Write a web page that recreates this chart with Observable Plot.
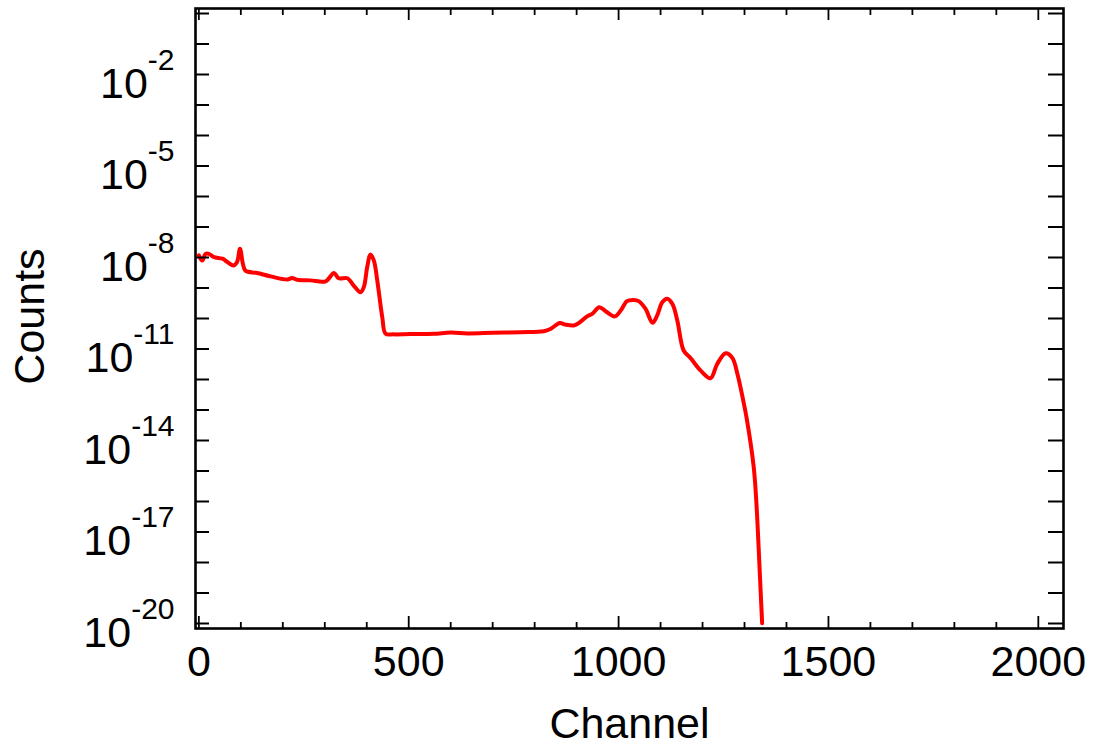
<!DOCTYPE html>
<html>
<head>
<meta charset="utf-8">
<script src="https://cdn.jsdelivr.net/npm/d3@7"></script>
<script src="https://cdn.jsdelivr.net/npm/@observablehq/plot@0.6"></script>
<style>
  html, body { margin: 0; padding: 0; background: #fff; }
</style>
</head>
<body>
<script>
// Channel values (x) and log10 of counts (y)
const channels = [0, 8, 16, 24, 36, 56, 68, 83, 91, 98, 105, 111, 139, 171, 211, 222, 234, 266, 302, 322, 333, 354, 369, 385, 393, 401, 409, 417, 425, 437, 445, 464, 504, 560, 600, 640, 700, 766, 822, 838, 860, 873, 893, 905, 925, 937, 954, 969, 991, 1005, 1020, 1036, 1048, 1064, 1081, 1092, 1104, 1116, 1128, 1140, 1155, 1171, 1195, 1219, 1235, 1255, 1271, 1283, 1297, 1306, 1322, 1328, 1334, 1338, 1342];
const log10Counts = [-7.93, -8.10, -7.88, -7.88, -7.99, -8.04, -8.15, -8.26, -8.15, -7.71, -8.21, -8.43, -8.51, -8.62, -8.72, -8.67, -8.73, -8.75, -8.78, -8.51, -8.68, -8.68, -8.92, -9.14, -8.97, -8.32, -7.90, -8.10, -8.75, -9.96, -10.50, -10.52, -10.51, -10.50, -10.46, -10.49, -10.47, -10.45, -10.42, -10.34, -10.15, -10.20, -10.23, -10.15, -9.93, -9.85, -9.63, -9.76, -9.93, -9.74, -9.43, -9.39, -9.43, -9.68, -10.14, -9.90, -9.47, -9.35, -9.52, -10.07, -11.05, -11.29, -11.70, -11.96, -11.49, -11.14, -11.29, -11.81, -12.69, -13.34, -14.88, -15.97, -17.61, -18.81, -19.99];

const xTickLabels = [0, 500, 1000, 1500, 2000];
const xMinorTicks = [0, 100, 200, 300, 400, 500, 600, 700, 800, 900, 1000, 1100, 1200, 1300, 1400, 1500, 1600, 1700, 1800, 1900, 2000];
const yTickExponents = [-2, -5, -8, -11, -14, -17, -20];
const yDecadeExponents = [0, -1, -2, -3, -4, -5, -6, -7, -8, -9, -10, -11, -12, -13, -14, -15, -16, -17, -18, -19, -20];
const xTitle = "Channel";
const yTitle = "Counts";

const data = channels.map((c, i) => ({channel: c, counts: Math.pow(10, log10Counts[i])}));
const yLabelTicks = yTickExponents.map(e => Math.pow(10, e));
const yDecades = yDecadeExponents.map(e => Math.pow(10, e));
const xMajor = xMinorTicks.filter(v => xTickLabels.includes(v));
const xMinor = xMinorTicks.filter(v => !xTickLabels.includes(v));

const W = 1094, H = 749, mL = 195, mR = 31, mT = 8, mB = 121;
const pw = W - mL - mR, ph = H - mT - mB;
const font = "'Liberation Sans', Arial, Helvetica, sans-serif";

const chart = Plot.plot({
  width: W, height: H,
  marginLeft: mL, marginRight: mR, marginTop: mT, marginBottom: mB,
  style: {fontFamily: font, background: "white", color: "black"},
  x: {domain: [-8, 2060]},
  y: {type: "log", domain: [Math.pow(10, -20.164), Math.pow(10, 0.164)]},
  marks: [
    Plot.line(data, {x: "channel", y: "counts", stroke: "#ff0000", strokeWidth: 4, curve: "catmull-rom"}),
    // bottom ticks
    Plot.tickX(xMinor, {x: d => d, insetTop: ph - 6, stroke: "black", strokeWidth: 1.8}),
    Plot.tickX(xMajor, {x: d => d, insetTop: ph - 12, stroke: "black", strokeWidth: 1.8}),
    // top ticks
    Plot.tickX(xMinor, {x: d => d, insetBottom: ph - 7, stroke: "black", strokeWidth: 1.8}),
    Plot.tickX(xMajor, {x: d => d, insetBottom: ph - 12, stroke: "black", strokeWidth: 1.8}),
    // left and right ticks
    Plot.tickY(yDecades, {y: d => d, insetRight: pw - 14, stroke: "black", strokeWidth: 2}),
    Plot.tickY(yDecades, {y: d => d, insetLeft: pw - 15, stroke: "black", strokeWidth: 2}),
    Plot.frame({stroke: "black", strokeWidth: 2.6}),
    Plot.axisX({ticks: xTickLabels, tickSize: 0, tickPadding: 17, fontSize: 43, label: null, tickFormat: d => String(d)}),
    Plot.axisY({ticks: yLabelTicks, tickSize: 0, tickPadding: 21, fontSize: 43, dy: 9.5, label: null,
      tickFormat: d => String(Math.round(Math.log10(d)))}),
    Plot.text([xTitle], {text: d => d, frameAnchor: "bottom", textAnchor: "middle", lineAnchor: "bottom", dy: 109, fontSize: 43}),
    Plot.text([yTitle], {text: d => d, frameAnchor: "left", textAnchor: "middle", lineAnchor: "middle", dx: -165, dy: -2, rotate: -90, fontSize: 43})
  ]
});

// Turn exponent labels into 10 with superscript exponent
const NS = "http://www.w3.org/2000/svg";
chart.querySelectorAll('g[aria-label="y-axis tick label"] text').forEach(t => {
  const e = t.textContent;
  t.textContent = "";
  const base = document.createElementNS(NS, "tspan");
  base.textContent = "10";
  const sup = document.createElementNS(NS, "tspan");
  sup.setAttribute("font-size", "30");
  sup.setAttribute("dy", "-28");
  sup.setAttribute("dx", "0");
  sup.textContent = e;
  t.appendChild(base);
  t.appendChild(sup);
});

document.body.append(chart);
</script>
</body>
</html>
